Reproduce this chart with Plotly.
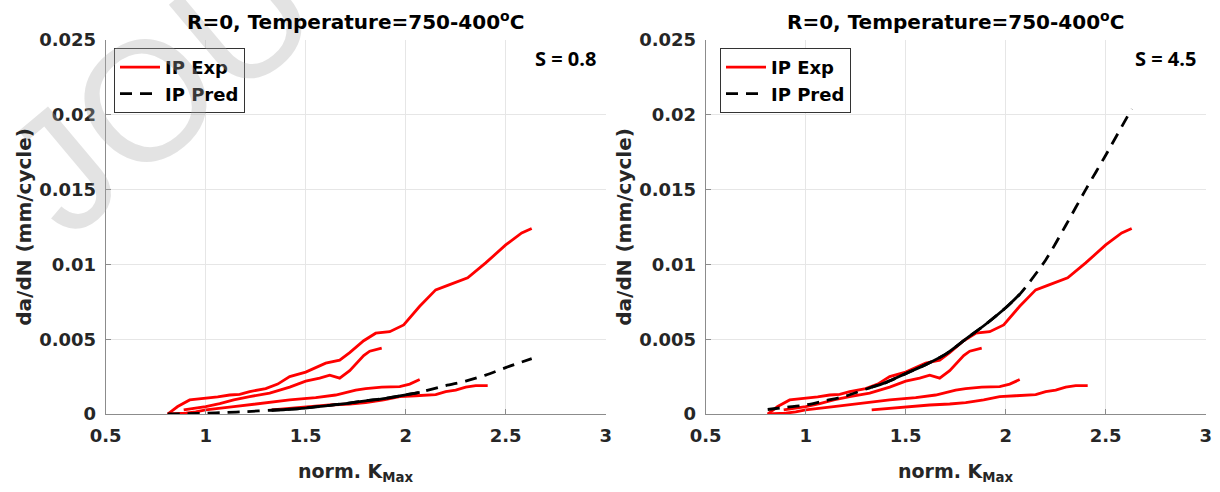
import plotly.graph_objects as go

# ---------------- data ----------------
exp1_x = [0.81, 0.86, 0.92, 1.0, 1.06, 1.12, 1.17, 1.22, 1.30, 1.36, 1.42, 1.50, 1.55, 1.60, 1.67, 1.72, 1.79, 1.85, 1.92, 1.99, 2.07, 2.15, 2.21, 2.31, 2.40, 2.50, 2.58, 2.63]
exp1_y = [0.0, 0.0005, 0.00094, 0.00105, 0.00115, 0.00127, 0.00131, 0.0015, 0.0017, 0.002, 0.0025, 0.0028, 0.0031, 0.0034, 0.0036, 0.0041, 0.0049, 0.0054, 0.0055, 0.00595, 0.0072, 0.0083, 0.0086, 0.0091, 0.0101, 0.0113, 0.0121, 0.0124]

exp2_x = [0.89, 1.0, 1.07, 1.14, 1.22, 1.32, 1.42, 1.50, 1.57, 1.62, 1.67, 1.72, 1.79, 1.82, 1.88]
exp2_y = [0.00027, 0.0005, 0.0007, 0.00094, 0.00116, 0.0014, 0.0018, 0.0022, 0.0024, 0.0026, 0.0024, 0.0029, 0.0039, 0.0042, 0.0044]

exp3_x = [0.81, 0.9, 0.95, 1.0, 1.14, 1.27, 1.42, 1.55, 1.65, 1.75, 1.80, 1.88, 1.97, 2.02, 2.07]
exp3_y = [0.0, 0.00005, 0.00015, 0.00027, 0.00049, 0.00071, 0.00094, 0.0011, 0.00127, 0.0016, 0.0017, 0.0018, 0.00183, 0.002, 0.0023]

exp4_x = [1.33, 1.47, 1.62, 1.72, 1.80, 1.89, 1.97, 2.05, 2.15, 2.2, 2.25, 2.3, 2.35, 2.41]
exp4_y = [0.00027, 0.00045, 0.0006, 0.00067, 0.00076, 0.00094, 0.00116, 0.00122, 0.0013, 0.0015, 0.0016, 0.0018, 0.0019, 0.0019]

pred_x = [0.81, 0.9, 1.0, 1.1, 1.2, 1.33, 1.4, 1.5, 1.6, 1.7, 1.8, 1.9, 2.0, 2.07, 2.2, 2.3, 2.4, 2.5, 2.63]
pred_s08 = [0.0, 0.00002, 0.00005, 0.0001, 0.00016, 0.00025, 0.0003, 0.0004, 0.00055, 0.0007, 0.00088, 0.00105, 0.00128, 0.00145, 0.0019, 0.0022, 0.0026, 0.0031, 0.0037]
pred_s45 = [0.0003, 0.00045, 0.0006, 0.0009, 0.0012, 0.0018, 0.0021, 0.0027, 0.0033, 0.0040, 0.0050, 0.0060, 0.0071, 0.0080, 0.0103, 0.0126, 0.0150, 0.0173, 0.0204]

x_ticks = [0.5, 1, 1.5, 2, 2.5, 3]
x_ticktext = ["0.5", "1", "1.5", "2", "2.5", "3"]
y_ticks = [0, 0.005, 0.01, 0.015, 0.02, 0.025]
y_ticktext = ["0", "0.005", "0.01", "0.015", "0.02", "0.025"]

panel_titles = ["R=0, Temperature=750-400<sup>o</sup>C", "R=0, Temperature=750-400<sup>o</sup>C"]
s_labels = ["S = 0.8", "S = 4.5"]
preds = [pred_s08, pred_s45]
solid_range = (1.33, 2.07)

# ---------------- figure ----------------
W, H = 1220, 492
FONT = "DejaVu Sans"
RED = "#ff0000"
fig = go.Figure()

exp_sets = [(exp1_x, exp1_y), (exp2_x, exp2_y), (exp3_x, exp3_y), (exp4_x, exp4_y)]

for p in range(2):
    xa = "x" if p == 0 else "x2"
    ya = "y" if p == 0 else "y2"
    leg = "legend" if p == 0 else "legend2"
    for i, (ex, ey) in enumerate(exp_sets):
        fig.add_trace(go.Scatter(x=ex, y=ey, mode="lines", line=dict(color=RED, width=2.8),
                                 name="IP Exp", showlegend=(i == 0), legend=leg,
                                 xaxis=xa, yaxis=ya))
    py = preds[p]
    fig.add_trace(go.Scatter(x=pred_x, y=py, mode="lines",
                             line=dict(color="black", width=2.8, dash="12px,8px",
                                       shape="spline", smoothing=0.8),
                             name="IP Pred", showlegend=True, legend=leg, xaxis=xa, yaxis=ya))
    sx = [x for x in pred_x if solid_range[0] <= x <= solid_range[1]]
    sy = [y for x, y in zip(pred_x, py) if solid_range[0] <= x <= solid_range[1]]
    fig.add_trace(go.Scatter(x=sx, y=sy, mode="lines",
                             line=dict(color="black", width=2.8, shape="spline", smoothing=0.8),
                             showlegend=False, xaxis=xa, yaxis=ya))

x_domains = [[105.7 / W, 605.7 / W], [705.7 / W, 1205.7 / W]]
y_domain = [1 - 414 / H, 1 - 40 / H]

axis_common = dict(
    showline=True, linecolor="#8c8c8c", linewidth=1,
    ticks="inside", ticklen=5, tickcolor="#8c8c8c",
    showgrid=True, gridcolor="#e6e6e6", gridwidth=1,
    zeroline=False, mirror=False, automargin=False,
    tickfont=dict(family=FONT, size=18, color="#262626", weight="bold"),
)

fig.update_layout(
    xaxis=dict(domain=x_domains[0], range=[0.5, 3], tickvals=x_ticks, ticktext=x_ticktext,
               anchor="y", ticklabelstandoff=5, **axis_common),
    yaxis=dict(domain=y_domain, range=[0, 0.025], tickvals=y_ticks, ticktext=y_ticktext,
               anchor="x", ticklabelstandoff=5, **axis_common),
    xaxis2=dict(domain=x_domains[1], range=[0.5, 3], tickvals=x_ticks, ticktext=x_ticktext,
                anchor="y2", ticklabelstandoff=5, **axis_common),
    yaxis2=dict(domain=y_domain, range=[0, 0.025], tickvals=y_ticks, ticktext=y_ticktext,
                anchor="x2", ticklabelstandoff=5, **axis_common),
)

legend_style = dict(bgcolor="white", bordercolor="#333333", borderwidth=1,
                    font=dict(family=FONT, size=18, color="black", weight="bold"),
                    xanchor="left", yanchor="top", tracegroupgap=0, itemwidth=40)
fig.update_layout(
    legend=dict(x=114 / W, y=1 - 48 / H, **legend_style),
    legend2=dict(x=720 / W, y=1 - 48 / H, **legend_style),
)

annotations = []
# watermark (drawn first)
annotations.append(dict(text="JOU", x=160 / W, y=1 - 88 / H, xref="paper", yref="paper",
                        showarrow=False, xanchor="center", yanchor="middle", textangle=-40,
                        font=dict(family="Liberation Sans", size=170, color="rgba(170,170,170,0.33)")))
for p in range(2):
    cx = (x_domains[p][0] + x_domains[p][1]) / 2
    annotations.append(dict(text=panel_titles[p], x=cx, y=1 - 21 / H, xref="paper", yref="paper",
                            showarrow=False, xanchor="center", yanchor="middle",
                            font=dict(family=FONT, size=20, color="black", weight="bold")))
    annotations.append(dict(text="norm. K<sub>Max</sub>", x=cx, y=1 - 472 / H, xref="paper", yref="paper",
                            showarrow=False, xanchor="center", yanchor="middle",
                            font=dict(family=FONT, size=19, color="#262626", weight="bold")))
    annotations.append(dict(text="da/dN (mm/cycle)", x=(x_domains[p][0] * W - 82) / W,
                            y=(y_domain[0] + y_domain[1]) / 2, xref="paper", yref="paper",
                            showarrow=False, xanchor="center", yanchor="middle", textangle=-90,
                            font=dict(family=FONT, size=20, color="#262626", weight="bold")))
    annotations.append(dict(text=s_labels[p], x=x_domains[p][1] - 8 / W, y=1 - 58 / H,
                            xref="paper", yref="paper", showarrow=False,
                            xanchor="right", yanchor="middle",
                            font=dict(family="Open Sans", size=20, color="black", weight="bold")))

fig.update_layout(
    width=W, height=H, autosize=False,
    margin=dict(l=0, r=0, t=0, b=0),
    paper_bgcolor="white", plot_bgcolor="white",
    annotations=annotations,
)

fig.write_html("out.html", config={"displayModeBar": False},
               post_script="document.body.style.margin='0px';")
